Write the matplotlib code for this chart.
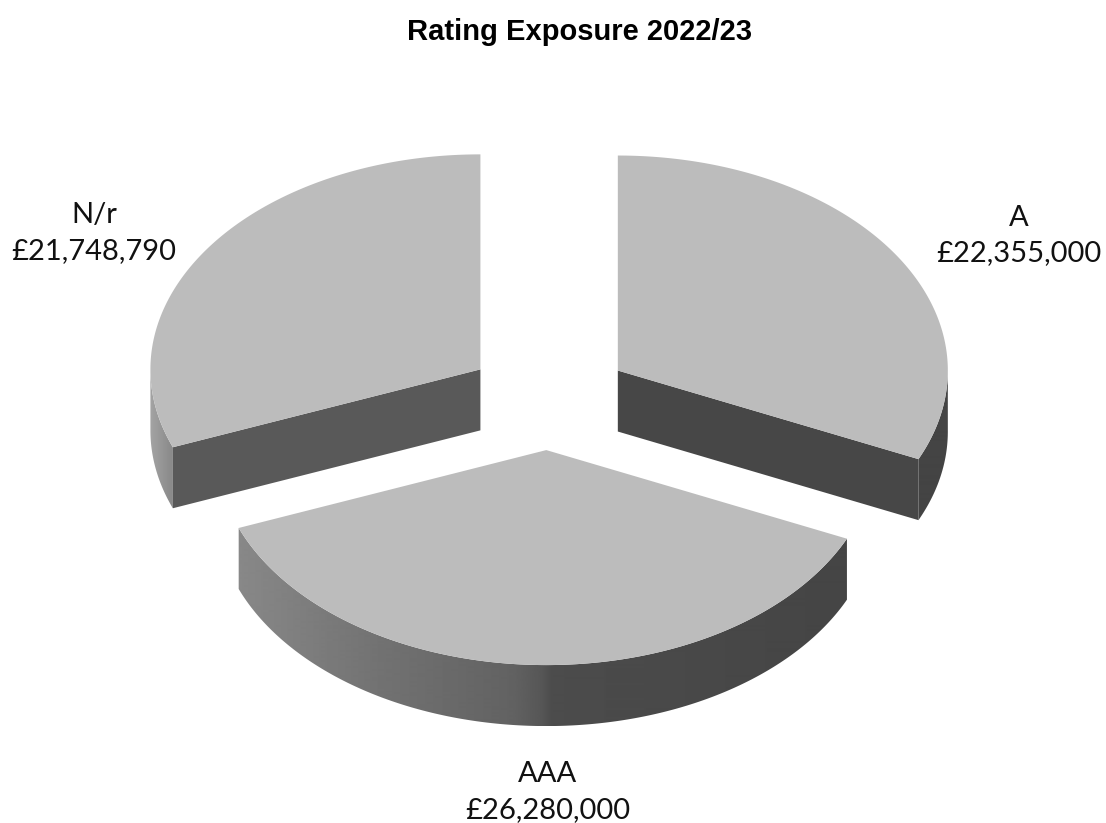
import numpy as np
import matplotlib
matplotlib.use('Agg')
import matplotlib.pyplot as plt
from matplotlib.patches import Polygon

# данные
names = ['A', 'AAA', 'N/r']
values = [22355000, 26280000, 21748790]
title = 'Rating Exposure 2022/23'

# геометрия псевдо-3D круга (в пикселях)
cx, cy = 548.5, 398.5
rx, ry = 330, 215
depth = 61
explode_x, explode_y = 0.25, 0.24

top_color = '#bcbcbc'
cut_colors = {'A': '#474747', 'N/r': '#595959'}
label_pos = {'A': (1019, 235.5), 'AAA': (548, 792), 'N/r': (94, 233)}

# заливка боковины зависит от положения по горизонтали
shade_x = [-1.0, -0.93, -0.5, -0.1, -0.01, 0.02, 1.0]
shade_g = [0xa4, 0x88, 0x72, 0x62, 0x56, 0x4c, 0x44]


def point(x0, y0, a):
    # a - угол по часовой стрелке от 12 часов
    return x0 + rx * np.sin(a), y0 - ry * np.cos(a)


fig = plt.figure(figsize=(11.06, 8.23), dpi=100)
ax = fig.add_axes([0, 0, 1, 1])

fractions = np.array(values) / sum(values)
ends = np.cumsum(fractions) * 2 * np.pi
starts = ends - fractions * 2 * np.pi

gradient = np.interp(np.linspace(-1, 1, 1320), shade_x, shade_g).reshape(1, -1)

# сначала дальние сектора, нижний рисуем последним
for i in [0, 2, 1]:
    a0, a1 = starts[i], ends[i]
    mid = (a0 + a1) / 2
    x0 = cx + explode_x * rx * np.sin(mid)
    y0 = cy - explode_y * ry * np.cos(mid)

    # боковая поверхность видна только спереди
    t = np.linspace(max(a0, np.pi / 2), min(a1, 3 * np.pi / 2), 300)
    xs, ys = point(x0, y0, t)
    rim = Polygon(np.vstack([np.column_stack([xs, ys]),
                             np.column_stack([xs[::-1], ys[::-1] + depth])]),
                  transform=ax.transData, facecolor='none', edgecolor='none')
    ax.add_patch(rim)
    img = ax.imshow(gradient, cmap='gray', vmin=0, vmax=255, aspect='auto',
                    extent=(x0 - rx, x0 + rx, y0 + ry + depth, y0 - ry))
    img.set_clip_path(rim)

    # срез сектора, обращённый к зрителю
    if names[i] in cut_colors:
        cut = a1 if names[i] == 'A' else a0
        ex, ey = point(x0, y0, cut)
        ax.add_patch(Polygon([(x0, y0), (ex, ey), (ex, ey + depth), (x0, y0 + depth)],
                             facecolor=cut_colors[names[i]], edgecolor='none'))

    # верхняя грань
    t = np.linspace(a0, a1, 300)
    xs, ys = point(x0, y0, t)
    ax.add_patch(Polygon(np.vstack([[x0, y0], np.column_stack([xs, ys])]),
                         facecolor=top_color, edgecolor='none'))

    lx, ly = label_pos[names[i]]
    ax.text(lx, ly, f'{names[i]}\n£{values[i]:,}', family='Lato', fontsize=21,
            ha='center', va='center', linespacing=1.47, color='#111111')

ax.text(579.5, 32, title, family='Liberation Sans', fontweight='bold', fontsize=21,
        ha='center', va='center', color='black')

ax.set_xlim(0, 1106)
ax.set_ylim(823, 0)
ax.axis('off')

fig.savefig('out.png', dpi=100, facecolor='white')
